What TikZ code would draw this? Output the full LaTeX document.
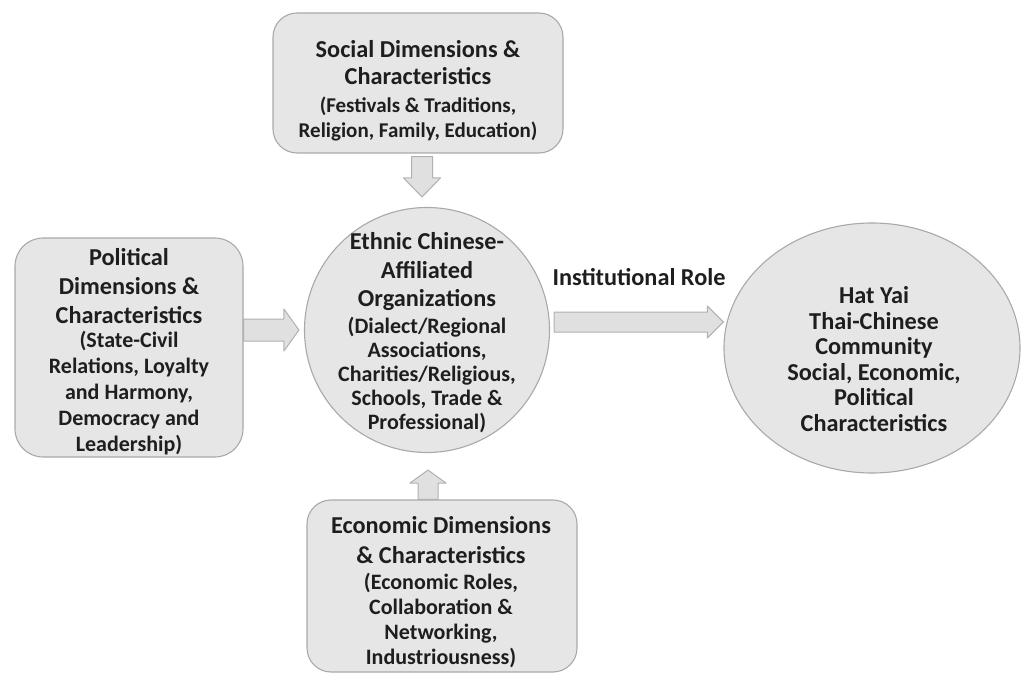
\documentclass[tikz,border=0pt]{standalone}
\usepackage{fontspec}
\setmainfont{Carlito}
\usetikzlibrary{calc,shapes.geometric}
\definecolor{boxfill}{HTML}{E6E6E6}
\definecolor{boxline}{HTML}{A9A9A9}
\definecolor{arrfill}{HTML}{E0E0E0}
\definecolor{arrline}{HTML}{B0B0B0}
\definecolor{txt}{HTML}{1E1E1E}
\newcommand{\subtxt}{\fontsize{22}{24}\selectfont}
\newcommand{\subtop}{\fontsize{21}{24}\selectfont}
% horizontal block arrow: start, end, shaft half, head half, head length (signed)
\newcommand{\harrow}[5]{%
  \filldraw[blk] let \p1=(#1), \p2=(#2) in
    (\x1,\y1+#3) -- (\x2-#5,\y1+#3) -- (\x2-#5,\y1+#4) -- (\x2,\y1) --
    (\x2-#5,\y1-#4) -- (\x2-#5,\y1-#3) -- (\x1,\y1-#3) -- cycle;}
% vertical block arrow: start, end, shaft half, head half, head length (signed)
\newcommand{\varrow}[5]{%
  \filldraw[blk] let \p1=(#1), \p2=(#2) in
    (\x1-#3,\y1) -- (\x1-#3,\y2+#5) -- (\x1-#4,\y2+#5) -- (\x1,\y2) --
    (\x1+#4,\y2+#5) -- (\x1+#3,\y2+#5) -- (\x1+#3,\y1) -- cycle;}
\begin{document}
\begin{tikzpicture}[x=1pt,y=-1pt,
  shp/.style={draw=boxline, fill=boxfill, line width=1.1pt, inner sep=0pt},
  box/.style={shp, rounded corners=24pt},
  txtn/.style={align=center, text=txt, inner sep=0pt,
    font=\bfseries\fontsize{24.3}{#1}\selectfont},
  blk/.style={draw=arrline, fill=arrfill, line width=1pt, line join=round},
  lbl/.style={text=txt, font=\bfseries\fontsize{24.3}{28}\selectfont, inner sep=0pt}]
\useasboundingbox (0,0) rectangle (1021,674);

% shapes
\node[box, minimum width=290pt, minimum height=140pt] (T) at (418,83) {};
\node[box, rounded corners=28pt, minimum width=228pt, minimum height=219pt] (L) at (129,347.5) {};
\node[shp, circle, minimum size=245pt] (C) at (427,330) {};
\node[shp, ellipse, minimum width=296pt, minimum height=250pt] (R) at (872,348) {};
\node[box, minimum width=270pt, minimum height=172pt] (B) at (442,586) {};

% texts
\node[txtn=25pt] (Tt) at ($(T.center)+(0,8)$)
  {Social Dimensions \&\\[2pt] Characteristics\\[3pt]
   \subtop (Festivals \& Traditions,\\ \subtop Religion, Family, Education)};

\node[txtn=26pt] (Lt) at ($(L.center)+(0,4)$)
  {Political\\[3.5pt] Dimensions \&\\[3pt] Characteristics\\[-2pt]
   \subtxt (State-Civil\\ \subtxt Relations, Loyalty\\ \subtxt and Harmony,\\
   \subtxt Democracy and\\ \subtxt Leadership)};

\node[txtn=24pt] (Ct) at ($(C.center)+(0,3)$)
  {Ethnic Chinese-\\[5pt] Affiliated\\[4pt] Organizations\\[3pt]
   \subtxt (Dialect/Regional\\ \subtxt Associations,\\ \subtxt Charities/Religious,\\
   \subtxt Schools, Trade \&\\ \subtxt Professional)};

\node[txtn=25.6pt] (Rt) at ($(R.center)+(2,11)$)
  {Hat Yai\\ Thai-Chinese\\ Community\\ Social, Economic,\\ Political\\ Characteristics};

\node[txtn=25pt] (Bt) at ($(B.center)+(-1,6)$)
  {Economic Dimensions\\[5pt] \& Characteristics\\[1pt]
   \subtxt (Economic Roles,\\ \subtxt Collaboration \&\\ \subtxt Networking,\\
   \subtxt Industriousness)};

\node[lbl] (lab) at (639,277) {Institutional Role};

% block arrows
\harrow{L.east |- C.west}{$(C.west)+(-5,0)$}{11pt}{21pt}{15pt}
\harrow{$(C.east)+(4,-8)$}{R.west}{10pt}{16pt}{16pt}
\varrow{$(T.south)+(4,3)$}{$(C.north)+(0,-10)$}{10.5pt}{18.5pt}{19pt}
\varrow{$(B.north)+(-14,0)$}{$(C.south)+(0,17)$}{10pt}{18pt}{-13pt}
\end{tikzpicture}
\end{document}
